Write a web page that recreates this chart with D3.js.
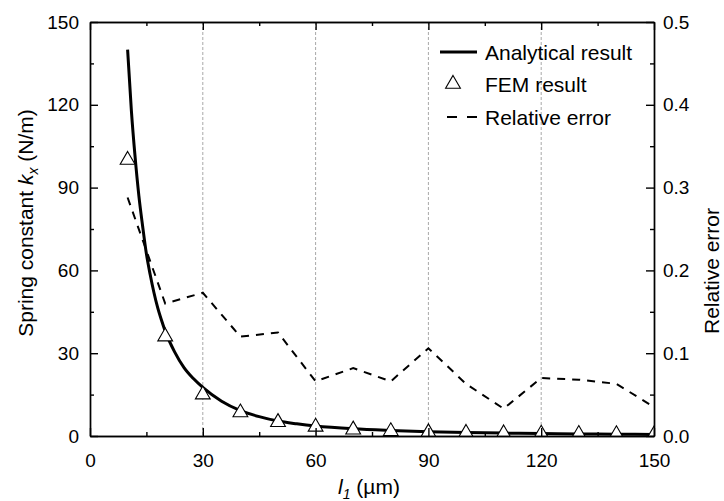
<!DOCTYPE html>
<html>
<head>
<meta charset="utf-8">
<script src="https://cdn.jsdelivr.net/npm/d3@7"></script>
<style>
    body { margin: 0; background: #fff; }
    svg { font-family: "Liberation Sans", Arial, sans-serif; }
    .axis path, .axis line { stroke: #000; stroke-width: 1.4; }
    .axis text { font-size: 19px; fill: #000; }
    .grid { stroke: #a8a8a8; stroke-width: 1; stroke-dasharray: 3,2; }
    .title { font-size: 21px; fill: #000; }
    .legend text { font-size: 21px; fill: #000; }
</style>
</head>
<body>
<div id="chart"></div>
<script>
// Values.
var curve_l = [10, 11, 12, 13, 14, 15, 16, 17, 18, 19, 20, 22.5, 25, 27.5, 30,
               35, 40, 45, 50, 55, 60, 70, 80, 90, 100, 110, 120, 130, 140, 150];
var curve_k = [140, 118, 101, 87, 76, 66, 58.5, 52, 46.5, 42, 38, 30.5, 24.8, 20.8, 17.6,
               12.6, 9.2, 7.0, 5.4, 4.4, 3.6, 2.6, 2.0, 1.55, 1.25, 1.05, 0.88, 0.76, 0.66, 0.58];

var fem_l = [10, 20, 30, 40, 50, 60, 70, 80, 90, 100, 110, 120, 130, 140, 150];
var fem_k = [100, 36, 15, 8.5, 5.0, 3.3, 2.3, 1.7, 1.3, 1.1, 0.9, 0.8, 0.7, 0.6, 0.5];
var rel_error = [0.288, 0.16, 0.173, 0.12, 0.125, 0.066, 0.082, 0.066, 0.106,
                 0.063, 0.033, 0.07, 0.068, 0.063, 0.035];

var l_ticks = [0, 30, 60, 90, 120, 150];
var l_minor = [15, 45, 75, 105, 135];
var k_ticks = [0, 30, 60, 90, 120, 150];
var k_minor = [15, 45, 75, 105, 135];
var err_ticks = [0, 0.1, 0.2, 0.3, 0.4, 0.5];
var err_minor = [0.05, 0.15, 0.25, 0.35, 0.45];
var grid_l = [30, 60, 90, 120];
var legend_labels = ['Analytical result', 'FEM result', 'Relative error'];

var width = 724, height = 501;
var m_left = 90, m_right = 654, m_top = 22, m_bottom = 436;

var svg = d3.select('#chart').append('svg')
    .attr('width', width)
    .attr('height', height);

// Scales.
var x = d3.scaleLinear().domain([0, 150]).range([m_left, m_right]);
var y = d3.scaleLinear().domain([0, 150]).range([m_bottom, m_top]);
var y_err = d3.scaleLinear().domain([0, 0.5]).range([m_bottom, m_top]);

// Vertical dotted grid lines.
svg.append('g').selectAll('line')
    .data(grid_l)
    .enter().append('line')
    .attr('class', 'grid')
    .attr('x1', d => x(d)).attr('x2', d => x(d))
    .attr('y1', m_top).attr('y2', m_bottom);

// Clip the data to the frame.
svg.append('clipPath').attr('id', 'frame')
    .append('rect')
    .attr('x', m_left).attr('y', m_top)
    .attr('width', m_right - m_left).attr('height', m_bottom - m_top);
var data_group = svg.append('g').attr('clip-path', 'url(#frame)');

var curve_line = d3.line()
    .x((d, i) => x(curve_l[i]))
    .y(d => y(d))
    .curve(d3.curveMonotoneX);
data_group.append('path')
    .attr('d', curve_line(curve_k))
    .attr('fill', 'none')
    .attr('stroke', '#000')
    .attr('stroke-width', 3);

var error_line = d3.line()
    .x((d, i) => x(fem_l[i]))
    .y(d => y_err(d));
data_group.append('path')
    .attr('d', error_line(rel_error))
    .attr('fill', 'none')
    .attr('stroke', '#000')
    .attr('stroke-width', 2)
    .attr('stroke-dasharray', '8,7');

var triangle = d3.symbol().type(d3.symbolTriangle).size(95);
data_group.selectAll('path.fem')
    .data(fem_k)
    .enter().append('path')
    .attr('class', 'fem')
    .attr('d', triangle)
    .attr('transform', (d, i) => 'translate(' + x(fem_l[i]) + ',' + y(d) + ')')
    .attr('fill', '#fff')
    .attr('stroke', '#000')
    .attr('stroke-width', 1.1);

// Axes: ticks point inward on all four sides.
function add_axis(axis, tx, ty) {
    return svg.append('g')
        .attr('class', 'axis')
        .attr('transform', 'translate(' + tx + ',' + ty + ')')
        .call(axis);
}
add_axis(d3.axisBottom(x).tickValues(l_ticks).tickSize(-8).tickSizeOuter(0).tickPadding(18), 0, m_bottom);
add_axis(d3.axisBottom(x).tickValues(l_minor).tickSize(-4).tickSizeOuter(0).tickFormat(''), 0, m_bottom);
add_axis(d3.axisTop(x).tickValues(l_ticks).tickSize(-8).tickSizeOuter(0).tickFormat(''), 0, m_top);
add_axis(d3.axisTop(x).tickValues(l_minor).tickSize(-4).tickSizeOuter(0).tickFormat(''), 0, m_top);
add_axis(d3.axisLeft(y).tickValues(k_ticks).tickSize(-8).tickSizeOuter(0).tickPadding(11), m_left, 0);
add_axis(d3.axisLeft(y).tickValues(k_minor).tickSize(-4).tickSizeOuter(0).tickFormat(''), m_left, 0);
add_axis(d3.axisRight(y_err).tickValues(err_ticks).tickSize(-8).tickSizeOuter(0).tickPadding(9)
    .tickFormat(d3.format('.1f')), m_right, 0);
add_axis(d3.axisRight(y_err).tickValues(err_minor).tickSize(-4).tickSizeOuter(0).tickFormat(''), m_right, 0);

// Axis titles.
var k_title = svg.append('text')
    .attr('class', 'title')
    .attr('text-anchor', 'middle')
    .attr('transform', 'translate(33,223) rotate(-90)');
k_title.append('tspan').text('Spring constant ');
k_title.append('tspan').attr('font-style', 'italic').text('k');
k_title.append('tspan').attr('font-style', 'italic').attr('font-size', 14).attr('dy', 5).text('x');
k_title.append('tspan').attr('dy', -5).text(' (N/m)');

var l_title = svg.append('text')
    .attr('class', 'title')
    .attr('text-anchor', 'middle')
    .attr('x', 369).attr('y', 494);
l_title.append('tspan').attr('font-style', 'italic').text('l');
l_title.append('tspan').attr('font-style', 'italic').attr('font-size', 14).attr('dy', 5).text('1');
l_title.append('tspan').attr('dy', -5).text(' (µm)');

svg.append('text')
    .attr('class', 'title')
    .attr('text-anchor', 'middle')
    .attr('font-size', 22)
    .attr('transform', 'translate(719,271) rotate(-90)')
    .text('Relative error');

// Legend.
var legend = svg.append('g').attr('class', 'legend');
var rows = [52, 84, 117];
legend.append('line')
    .attr('x1', 440).attr('x2', 477).attr('y1', rows[0]).attr('y2', rows[0])
    .attr('stroke', '#000').attr('stroke-width', 3);
legend.append('path')
    .attr('d', triangle)
    .attr('transform', 'translate(453,' + rows[1] + ')')
    .attr('fill', '#fff').attr('stroke', '#000').attr('stroke-width', 1.1);
legend.append('line')
    .attr('x1', 447).attr('x2', 477).attr('y1', rows[2]).attr('y2', rows[2])
    .attr('stroke', '#000').attr('stroke-width', 2).attr('stroke-dasharray', '10,10');
legend.selectAll('text')
    .data(legend_labels)
    .enter().append('text')
    .attr('x', 485)
    .attr('y', (d, i) => rows[i])
    .attr('dy', '0.36em')
    .text(d => d);
</script>
</body>
</html>
